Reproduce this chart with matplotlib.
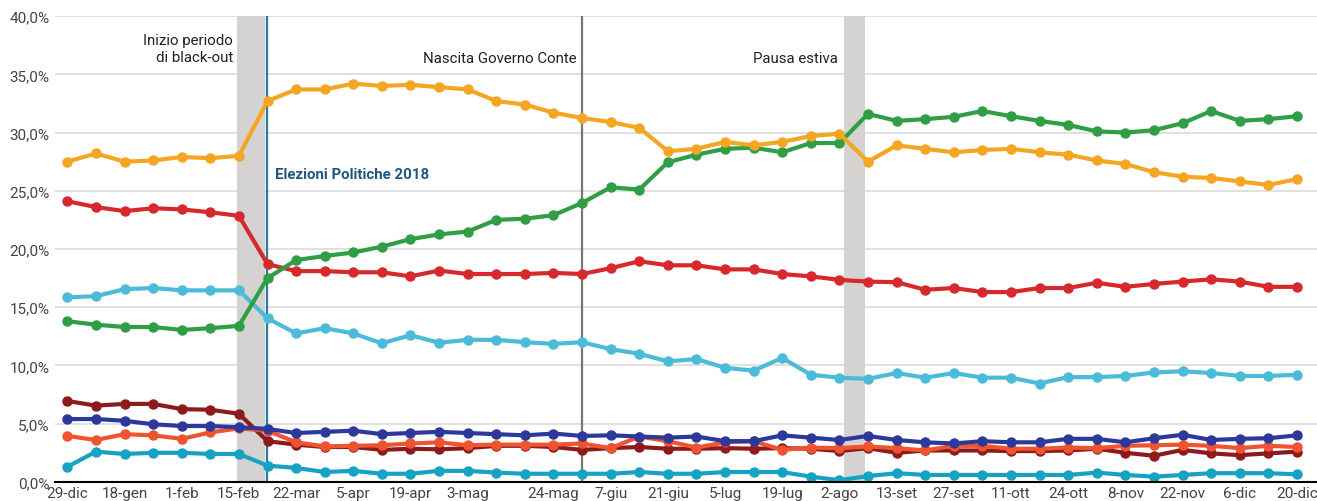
import matplotlib.pyplot as plt

plt.rcParams['font.family'] = ['Roboto', 'DejaVu Sans']

# tick labels shown on the categorical x axis (index -> label)
tick_pos = [0, 2, 4, 6, 8, 10, 12, 14, 17, 19, 21, 23, 25, 27, 29, 31, 33, 35, 37, 39, 41, 43]
tick_labels = ['29-dic', '18-gen', '1-feb', '15-feb', '22-mar', '5-apr', '19-apr', '3-mag',
               '24-mag', '7-giu', '21-giu', '5-lug', '19-lug', '2-ago', '13-set', '27-set',
               '11-ott', '24-ott', '8-nov', '22-nov', '6-dic', '20-dic']

orange = [27.5, 28.2, 27.5, 27.6, 27.9, 27.8, 28.0, 32.7, 33.7, 33.7, 34.2, 34.0, 34.1, 33.9,
          33.7, 32.7, 32.4, 31.7, 31.25, 30.9, 30.4, 28.4, 28.6, 29.2, 28.9, 29.2, 29.7, 29.9,
          27.5, 28.9, 28.6, 28.3, 28.5, 28.6, 28.3, 28.1, 27.6, 27.3, 26.6, 26.2, 26.1, 25.8,
          25.5, 26.0]
green = [13.8, 13.5, 13.3, 13.3, 13.05, 13.2, 13.4, 17.5, 19.05, 19.4, 19.7, 20.2, 20.85, 21.25,
         21.5, 22.5, 22.6, 22.9, 23.95, 25.3, 25.1, 27.45, 28.1, 28.6, 28.7, 28.3, 29.1, 29.1,
         31.6, 31.0, 31.15, 31.35, 31.85, 31.4, 31.0, 30.65, 30.1, 30.0, 30.2, 30.8, 31.85, 31.0,
         31.15, 31.4]
red = [24.1, 23.6, 23.25, 23.5, 23.4, 23.15, 22.85, 18.7, 18.1, 18.1, 18.0, 18.0, 17.65, 18.15,
       17.85, 17.85, 17.85, 17.95, 17.85, 18.35, 18.95, 18.6, 18.6, 18.25, 18.25, 17.85, 17.65,
       17.35, 17.2, 17.15, 16.5, 16.65, 16.3, 16.3, 16.65, 16.65, 17.1, 16.75, 17.0, 17.2, 17.4,
       17.2, 16.75, 16.75]
light_blue = [15.85, 15.95, 16.55, 16.65, 16.45, 16.45, 16.45, 14.05, 12.75, 13.2, 12.75, 11.9,
              12.6, 11.95, 12.2, 12.2, 12.0, 11.85, 12.0, 11.4, 11.0, 10.35, 10.55, 9.8, 9.55,
              10.65, 9.2, 8.95, 8.85, 9.35, 8.95, 9.35, 8.95, 8.95, 8.45, 9.0, 9.0, 9.1, 9.4, 9.5,
              9.35, 9.1, 9.1, 9.2]
dark_red = [6.95, 6.55, 6.7, 6.7, 6.25, 6.2, 5.85, 3.5, 3.2, 3.0, 3.0, 2.75, 2.85, 2.8, 2.9, 3.1,
            3.1, 3.0, 2.75, 2.9, 3.0, 2.85, 2.85, 2.9, 2.85, 2.9, 2.85, 2.65, 2.9, 2.5, 2.7, 2.7,
            2.7, 2.65, 2.65, 2.7, 2.85, 2.5, 2.25, 2.75, 2.45, 2.3, 2.45, 2.6]
navy = [5.4, 5.4, 5.25, 4.95, 4.8, 4.8, 4.7, 4.55, 4.2, 4.3, 4.4, 4.1, 4.2, 4.3, 4.2, 4.1, 4.0,
        4.15, 3.95, 4.0, 3.9, 3.8, 3.9, 3.5, 3.5, 4.0, 3.8, 3.6, 3.95, 3.6, 3.4, 3.3, 3.5, 3.4,
        3.4, 3.7, 3.7, 3.4, 3.75, 4.05, 3.6, 3.7, 3.75, 4.0]
orange_red = [3.95, 3.6, 4.1, 4.0, 3.7, 4.25, 4.6, 4.4, 3.4, 3.05, 3.1, 3.15, 3.3, 3.4, 3.15, 3.2,
              3.2, 3.2, 3.3, 2.9, 3.9, 3.5, 2.95, 3.4, 3.5, 2.75, 2.95, 2.9, 3.05, 2.9, 2.7, 3.1,
              3.1, 2.85, 2.85, 2.95, 2.9, 3.1, 3.15, 3.2, 3.1, 2.9, 3.1, 3.0]
teal = [1.3, 2.6, 2.4, 2.5, 2.5, 2.4, 2.4, 1.4, 1.2, 0.85, 0.95, 0.7, 0.7, 0.95, 0.95, 0.8, 0.7,
        0.7, 0.7, 0.7, 0.85, 0.7, 0.7, 0.85, 0.85, 0.85, 0.45, 0.15, 0.5, 0.75, 0.6, 0.6, 0.6,
        0.6, 0.6, 0.6, 0.8, 0.6, 0.45, 0.6, 0.75, 0.75, 0.75, 0.65]

series = [
    (teal, '#17a2c4'),
    (dark_red, '#8e1b1b'),
    (orange_red, '#f0532f'),
    (navy, '#2c389a'),
    (light_blue, '#4bbbd9'),
    (red, '#d7282c'),
    (green, '#2f9e45'),
    (orange, '#f4a623'),
]

fig = plt.figure(figsize=(13.17, 5.02), dpi=100)
ax = fig.add_axes([0.042, 0.038, 0.958, 0.928])

# shaded periods and event lines
ax.axvspan(5.93, 6.93, color='#d5d3d2', lw=0, zorder=1)
ax.axvspan(27.15, 27.9, color='#d5d3d2', lw=0, zorder=1)
ax.axvline(6.97, color='#2b78a0', lw=1.6, zorder=2)
ax.axvline(18, color='#777777', lw=1.6, zorder=2)

x = list(range(len(orange)))
for values, color in series:
    ax.plot(x, values, color=color, lw=3, marker='o', markersize=6.5, zorder=3,
            solid_capstyle='round')

ax.set_xlim(-0.42, 43.7)
ax.set_ylim(0, 40)
ax.set_yticks(range(0, 41, 5))
ax.set_yticklabels([f'{v},0%' for v in range(0, 41, 5)])
ax.set_xticks(tick_pos)
ax.set_xticklabels(tick_labels)
ax.tick_params(axis='both', length=0, labelsize=11, colors='#444444')
ax.tick_params(axis='x', pad=3)
ax.tick_params(axis='y', pad=4)
ax.grid(axis='y', color='#dcdcdc', lw=1.2, zorder=0)
ax.set_axisbelow(True)
for side in ['top', 'right', 'left']:
    ax.spines[side].set_visible(False)
ax.spines['bottom'].set_color('black')
ax.spines['bottom'].set_linewidth(1.5)
ax.spines['bottom'].set_zorder(4)

# annotations
ax.text(5.8, 37.2, 'Inizio periodo\ndi black-out', ha='right', va='center', fontsize=10.8,
        color='#222222', linespacing=1.25)
ax.text(17.8, 36.4, 'Nascita Governo Conte', ha='right', va='center', fontsize=10.8,
        color='#222222')
ax.text(26.95, 36.4, 'Pausa estiva', ha='right', va='center', fontsize=10.8, color='#222222')
ax.text(7.25, 26.4, 'Elezioni Politiche 2018', ha='left', va='center', fontsize=10.8,
        color='#1f5a7e', fontweight='bold')

fig.savefig('out.png', dpi=100)
